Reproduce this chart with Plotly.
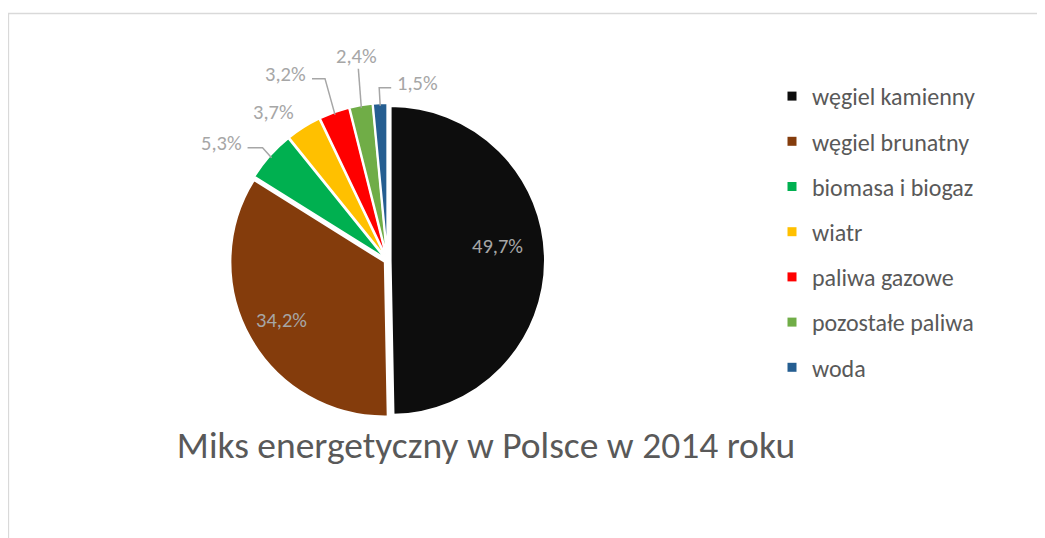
import math
import plotly.graph_objects as go

# ---- data ----
categories = ["węgiel kamienny", "węgiel brunatny", "biomasa i biogaz", "wiatr",
              "paliwa gazowe", "pozostałe paliwa", "woda"]
shares = [49.7, 34.2, 5.3, 3.7, 3.2, 2.4, 1.5]
colors = ["#0d0d0d", "#843c0c", "#00b050", "#ffc000", "#ff0000", "#70ad47", "#255e91"]
title_text = "Miks energetyczny w Polsce w 2014 roku"

# ---- layout constants ----
W, H = 1045, 538
OFF = 8  # page body margin
FONT = "Carlito, Calibri, Lato, sans-serif"
LABEL_COLOR = "#a6a6a6"
TEXT_COLOR = "#595959"
LABEL_SIZE = 20.5
PULL = 0.02
CX, CY = 387.5, 260.5      # pixel centre of pie
DOM_HALF = 157.5           # half size of pie domain in px
ROUT = 155.0               # visible outer radius incl. pull (px)
R_IN = 110.0               # radius for inside labels

# label placement: ("free", dx, dy, ref_radius) or ("line", elbow dx, elbow dy, tail dx, side)
label_place = {
    0: ("free", 0, -13, R_IN),
    1: ("free", -10, 5, R_IN),
    2: ("line", -9, -10, -15, "left"),
    3: ("free", -31, -17, ROUT),
    4: ("line", -10, -36, -13, "left"),
    5: ("line", -3, -39, 0, "top"),
    6: ("line", -1, -18, 12, "right"),
}


def px(x):
    return (x - OFF) / W


def py(y):
    return 1 - (y - OFF) / H


fig = go.Figure()
fig.add_trace(go.Pie(
    labels=categories, values=shares, sort=False, direction="clockwise", rotation=0,
    marker=dict(colors=colors, line=dict(color="white", width=2)),
    pull=[PULL] * len(shares),
    textinfo="none",
    domain=dict(x=[px(CX - DOM_HALF), px(CX + DOM_HALF)],
                y=[py(CY + DOM_HALF), py(CY - DOM_HALF)]),
    showlegend=False, hoverinfo="label+percent",
))

# legend entries
for i, (lab, col) in enumerate(zip(categories, colors)):
    fig.add_trace(go.Scatter(
        x=[None], y=[None], mode="markers", name=lab, legendgroup=f"g{i}",
        marker=dict(symbol="square", size=9, color=col), showlegend=True,
    ))

# data labels (with leader lines for the small slices)
total = sum(shares)
cum = 0.0
shapes = []
annotations = []
lab_font = dict(family=FONT, size=LABEL_SIZE, color=LABEL_COLOR)
for i, v in enumerate(shares):
    mid = (cum + v / 2) / total * 2 * math.pi
    cum += v
    txt = f"{v:.1f}%".replace(".", ",")
    spec = label_place[i]
    if spec[0] == "free":
        _, dx, dy, rr = spec
        ex = CX + rr * math.sin(mid)
        ey = CY - rr * math.cos(mid)
        annotations.append(dict(x=px(ex + dx), y=py(ey + dy), xref="paper", yref="paper",
                                text=txt, showarrow=False, xanchor="center", yanchor="middle",
                                font=lab_font))
        continue
    _, edx, edy, tdx, side = spec
    ex = CX + ROUT * math.sin(mid)
    ey = CY - ROUT * math.cos(mid)
    bx, by = ex + edx, ey + edy
    tx, ty = bx + tdx, by
    shapes.append(dict(type="path", xref="paper", yref="paper",
                       path=f"M {px(ex)} {py(ey)} L {px(bx)} {py(by)} L {px(tx)} {py(ty)}",
                       line=dict(color=LABEL_COLOR, width=1.5)))
    if side == "left":
        ax, ay, xa, ya = tx - 4, ty - 5, "right", "middle"
    elif side == "right":
        ax, ay, xa, ya = tx + 4, ty - 5, "left", "middle"
    else:
        ax, ay, xa, ya = tx - 2, ty + 2, "center", "bottom"
    annotations.append(dict(x=px(ax), y=py(ay), xref="paper", yref="paper", text=txt,
                            showarrow=False, xanchor=xa, yanchor=ya, font=lab_font))

# chart border
shapes.append(dict(type="rect", xref="paper", yref="paper", x0=px(8.5), y0=-0.05,
                   x1=1.05, y1=py(13.5), line=dict(color="#d9d9d9", width=1.3),
                   fillcolor="rgba(0,0,0,0)", layer="below"))

fig.update_layout(
    width=W, height=H, margin=dict(l=0, r=0, t=0, b=0),
    paper_bgcolor="white", plot_bgcolor="white",
    xaxis=dict(visible=False), yaxis=dict(visible=False),
    title=dict(text=title_text, x=px(486), y=py(445), xref="paper", yref="paper",
               xanchor="center", yanchor="middle",
               font=dict(family=FONT, size=37.5, color=TEXT_COLOR)),
    legend=dict(x=px(772), y=py(74), xanchor="left", yanchor="top",
                font=dict(family=FONT, size=24, color=TEXT_COLOR),
                tracegroupgap=11, bgcolor="rgba(0,0,0,0)"),
    shapes=shapes, annotations=annotations,
)

fig.write_html("out.html")
